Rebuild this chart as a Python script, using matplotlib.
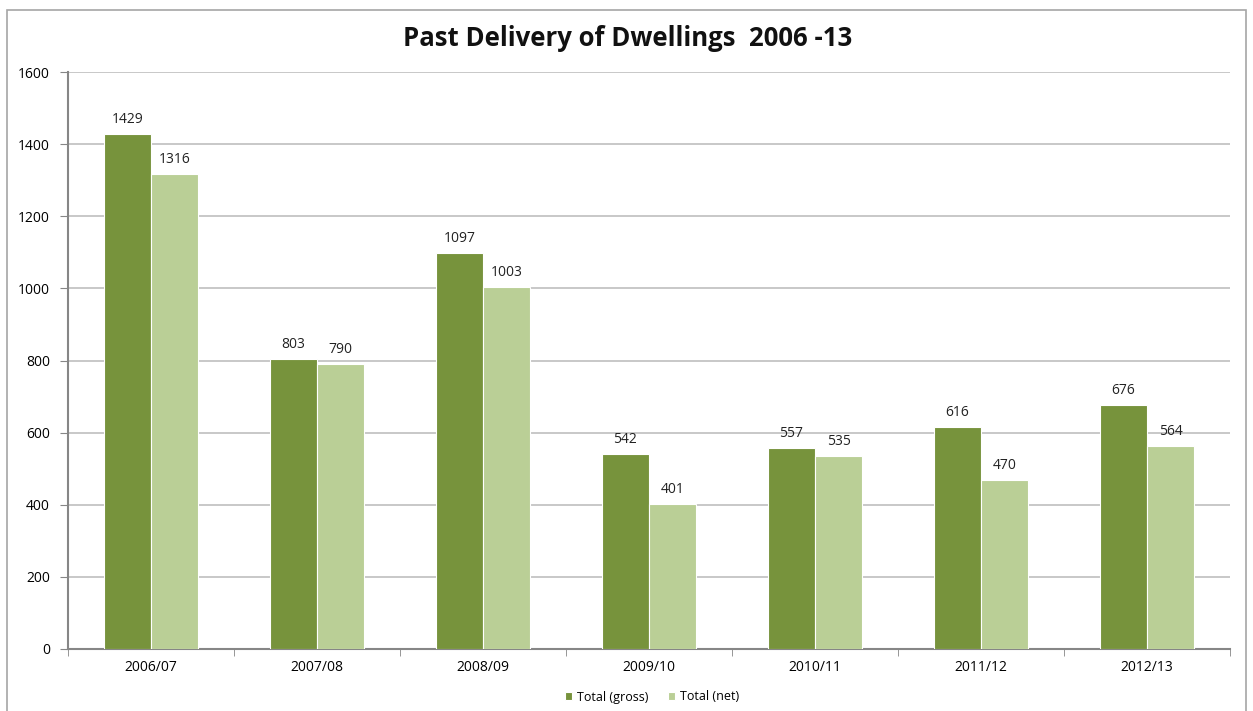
import matplotlib
matplotlib.use("Agg")
import matplotlib.pyplot as plt
import numpy as np
from matplotlib.patches import Rectangle

categories = ["2006/07", "2007/08", "2008/09", "2009/10", "2010/11", "2011/12", "2012/13"]
gross = [1429, 803, 1097, 542, 557, 616, 676]
net = [1316, 790, 1003, 401, 535, 470, 564]
series_names = ["Total (gross)", "Total (net)"]
yticks = [0, 200, 400, 600, 800, 1000, 1200, 1400, 1600]

c_gross = "#77933C"
c_net = "#BACF96"

plt.rcParams['font.family'] = ['Open Sans', 'DejaVu Sans']

fig = plt.figure(figsize=(12.53, 7.11), dpi=100)
fig.patches.append(Rectangle((7/1253, -0.05), (1246-7)/1253, 1.05 - 10/711,
                             transform=fig.transFigure, fill=False,
                             edgecolor="#A6A6A6", linewidth=1.2))
ax = fig.add_axes([68/1253, 1 - 649/711, (1230-68)/1253, (649-72)/711])

x = np.arange(len(categories))
w = 0.285
b1 = ax.bar(x - w/2, gross, w, color=c_gross, edgecolor="white", linewidth=0.8, label=series_names[0], zorder=3)
b2 = ax.bar(x + w/2, net, w, color=c_net, edgecolor="white", linewidth=0.8, label=series_names[1], zorder=3)

for rects, vals in ((b1, gross), (b2, net)):
    for r, v in zip(rects, vals):
        ax.annotate(str(v), (r.get_x() + r.get_width()/2, v), xytext=(0, 5),
                    textcoords="offset points", ha="center", va="bottom",
                    fontsize=10, color="#222222")

ax.set_xlim(-0.5, len(categories) - 0.5)
ax.set_ylim(0, 1600)
ax.set_yticks(yticks)
ax.set_yticklabels([str(t) for t in yticks], fontsize=10)
ax.set_xticks(x)
ax.set_xticklabels(categories, fontsize=10)
ax.tick_params(axis="x", length=0, pad=8)
ax.set_xticks(np.arange(-0.5, len(categories)), minor=True)
ax.tick_params(axis="x", which="minor", length=5, color="#868686")
ax.tick_params(axis="y", length=6, color="#868686", pad=7)
ax.yaxis.grid(True, color="#BFBFBF", linewidth=1.2, zorder=0)
ax.set_axisbelow(True)
for s in ("top", "right"):
    ax.spines[s].set_visible(False)
for s in ("left", "bottom"):
    ax.spines[s].set_color("#868686")
    ax.spines[s].set_linewidth(1.5)

fig.text(628/1253, 1 - 38/711, "Past Delivery of Dwellings  2006 -13", ha="center", va="center",
         fontsize=18.5, fontweight="bold", color="#111111")

leg = fig.legend(handles=[b1, b2], loc="center", bbox_to_anchor=(652/1253, 1 - 697/711), ncol=2,
                 frameon=False, fontsize=9, handlelength=0.6, handleheight=0.6,
                 handletextpad=0.4, columnspacing=1.5)

fig.savefig("out.png", dpi=100)
